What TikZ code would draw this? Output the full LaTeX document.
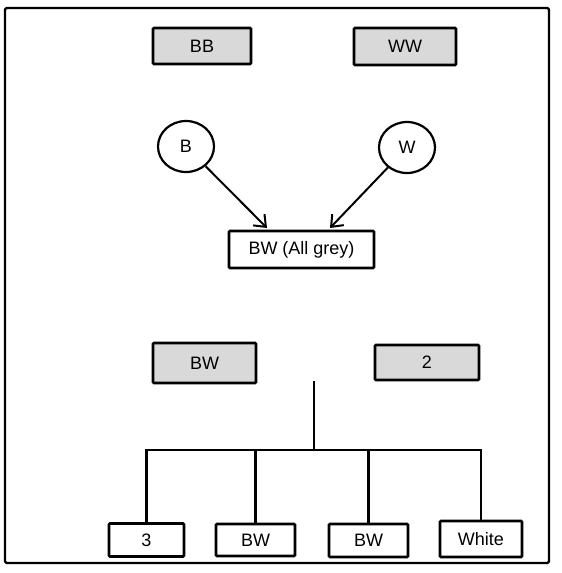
\documentclass[tikz,border=0pt]{standalone}
\usepackage{fontspec}
\setmainfont{Liberation Sans}
\usetikzlibrary{arrows.meta,shapes.geometric}
\definecolor{boxgrey}{RGB}{217,217,217}
\tikzset{
  base/.style={draw=black, line width=2.6pt, inner sep=0pt, font=\fontsize{18}{21}\selectfont, anchor=center},
  greybox/.style={base, rectangle, fill=boxgrey, rounded corners=1pt},
  whitebox/.style={base, rectangle, fill=white, rounded corners=1pt},
  circ/.style={base, ellipse, line width=2.2pt, minimum width=56pt, minimum height=51pt},
  conn/.style={line width=2.6pt},
  arr/.style={line width=2pt, -{Straight Barb[length=10pt,width=16pt,line width=2pt]}}
}
\begin{document}
\begin{tikzpicture}[x=1pt,y=-1pt]
\useasboundingbox (0,0) rectangle (562,573);
\draw[line width=2.4pt, rounded corners=1.5pt] (5,8) rectangle (549,563);
\node[greybox, minimum width=98pt, minimum height=36pt] (bb) at (202,46) {BB};
\node[greybox, minimum width=102pt, minimum height=37pt] (ww) at (405,46.5) {WW};
\node[circ] (b) at (186,146.5) {B};
\node[circ] (w) at (407,147.5) {W};
\node[whitebox, minimum width=145pt, minimum height=37pt] (bwall) at (301.5,249.5) {BW (All grey)};
\draw[arr] (b) -- (267,228);
\draw[arr] (w) -- (330,228);
\node[greybox, minimum width=103pt, minimum height=40pt] (bwg) at (204.5,363) {BW};
\node[greybox, minimum width=104pt, minimum height=35pt] (two) at (427,362.5) {2};
\node[whitebox, minimum width=75pt, minimum height=33pt] (n3) at (146.5,540) {3};
\node[whitebox, minimum width=79pt, minimum height=32pt] (bw2) at (255.5,540) {BW};
\node[whitebox, minimum width=79pt, minimum height=33pt] (bw3) at (368.5,540.5) {BW};
\node[whitebox, minimum width=82pt, minimum height=36pt] (wh) at (481,539) {White};
\coordinate (top) at (314,381);
\coordinate (bar) at (314,450);
\draw[conn] (top) -- (bar);
\draw[conn] (n3.north) |- (bar) -| (wh.north);
\draw[conn] (bw2.north) -- (bw2.north |- bar);
\draw[conn] (bw3.north) -- (bw3.north |- bar);
\end{tikzpicture}
\end{document}
